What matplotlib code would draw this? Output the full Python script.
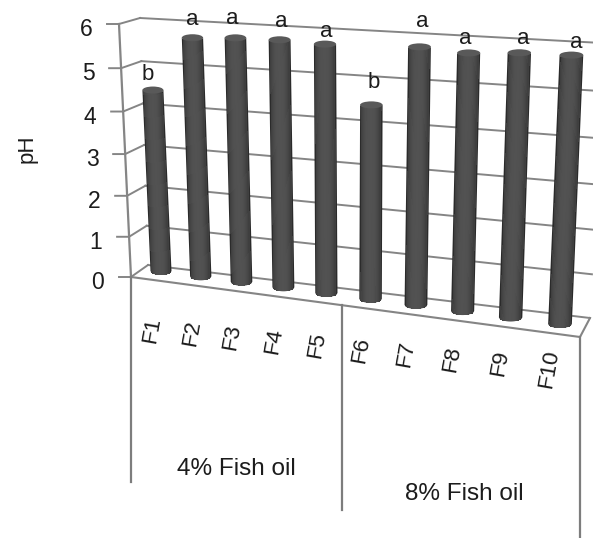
import numpy as np
import matplotlib
matplotlib.use("Agg")
import matplotlib.pyplot as plt
from matplotlib.patches import Ellipse

categories = ["F1", "F2", "F3", "F4", "F5", "F6", "F7", "F8", "F9", "F10"]
ph_values = [4.48, 5.73, 5.77, 5.77, 5.72, 4.46, 5.75, 5.67, 5.72, 5.72]
letters = ["b", "a", "a", "a", "a", "b", "a", "a", "a", "a"]
groups = ["4% Fish oil", "8% Fish oil"]
y_ticks = [0, 1, 2, 3, 4, 5, 6]

GRID = "#858585"
TEXT = "#1c1c1c"

plt.rcParams['font.family'] = ['Liberation Sans', 'DejaVu Sans']


def warp(f, r):
    return f / (f + (1 - f) * r)


def plane_point(corners, s, v):
    # corners: base left, base right, top left, top right (image pixels)
    t = warp(v / 6, 1.058)
    bl, br, tl, tr = [np.array(c, dtype=float) for c in corners]
    base = bl + (br - bl) * s
    top = tl + (tr - tl) * s
    return base + (top - base) * t


bar_plane = [(161, 274), (560, 327), (150, 24), (572, 41)]
back_wall = [(148, 265), (590, 318), (140, 18), (602, 43)]
side_wall = [(131, 277), (148, 265), (119, 24), (140, 18)]


def bar_point(u, v):
    return plane_point(bar_plane, warp((u - 0.5) / 9, 1.13), v)


fig = plt.figure(figsize=(5.93, 5.38), dpi=100)
ax = fig.add_axes([0, 0, 1, 1])
ax.set_xlim(0, 593)
ax.set_ylim(538, 0)
ax.axis("off")

# walls and ticks
for t in y_ticks:
    p0 = plane_point(back_wall, 0, t)
    p1 = plane_point(back_wall, 1, t)
    ax.plot([p0[0], p1[0]], [p0[1], p1[1]], color=GRID, lw=1.4, zorder=1)
    ps = plane_point(side_wall, 0, t)
    ax.plot([ps[0] - 12, ps[0], p0[0]], [ps[1], ps[1], p0[1]], color=GRID, lw=1.4, zorder=1)
    ax.text(ps[0] - 33, ps[1] + 5.5, str(t), fontsize=16.5, color=TEXT, ha="center", va="center")

pa = plane_point(side_wall, 0, 6)
ax.plot([pa[0], 131], [pa[1], 277], color=GRID, lw=1.6, zorder=1)

# floor
ax.plot([131, 580, 590], [277, 337, 318], color=GRID, lw=1.5, zorder=1)

# group separators
for sx, sy, ey in [(131, 277, 482), (342, 305, 510), (580, 337, 538)]:
    ax.plot([sx, sx], [sy, ey], color="#7d7d7d", lw=1.6, zorder=1)

# cylinders: dark silhouette, then shaded strips inside it
arc = np.linspace(-1, 1, 25)
for i, val in enumerate(ph_values):
    base = bar_point(i + 0.5, 0)
    top = bar_point(i + 0.5, val)
    hw = 10.5 + i * 0.15
    curve = np.sqrt(1 - arc ** 2)
    outline_x = np.concatenate([base[0] + arc * hw, top[0] + arc[::-1] * hw])
    outline_y = np.concatenate([base[1] - 3 + curve * 4, top[1] + curve[::-1] * 3])
    ax.fill(outline_x, outline_y, color="#2b2b2b", lw=0, zorder=3)
    inner = np.linspace(-0.86, 0.86, 19)
    for t0, t1 in zip(inner[:-1], inner[1:]):
        tm = (t0 + t1) / 2
        shade = 0.2 + 0.12 * (1 - abs(tm) ** 2.5)
        d0 = np.sqrt(1 - t0 ** 2)
        d1 = np.sqrt(1 - t1 ** 2)
        ax.fill([base[0] + t0 * hw, base[0] + t1 * hw, top[0] + t1 * hw, top[0] + t0 * hw],
                [base[1] - 3 + d0 * 3.5, base[1] - 3 + d1 * 3.5, top[1] + d1 * 3, top[1] + d0 * 3],
                color=str(shade), lw=0, antialiased=False, zorder=3.5)
    ax.add_patch(Ellipse((top[0], top[1]), 2 * hw, 7, facecolor="#595959", edgecolor="none", zorder=4))

# significance letters, nudged by hand like in the source chart
letter_dx = [-5, 0, -3, 2, 1, 2, 3, -3, 4, 5]
letter_dy = [-16, -18, -19, -18, -13, -22, -25, -14, -14, -13]
for i, val in enumerate(ph_values):
    p = bar_point(i + 0.5, val)
    ax.text(p[0] + letter_dx[i], p[1] + letter_dy[i], letters[i], fontsize=16, color=TEXT,
            ha="center", va="center", zorder=5)

# category labels sit below the floor edge
for i, name in enumerate(categories):
    p = bar_point(i + 0.5, 0)
    ax.text(p[0] - 9 - i * 0.2, p[1] + 56 - i * 1.6, name, fontsize=16, color=TEXT, rotation=80,
            ha="center", va="center", rotation_mode="anchor")

ax.text(236, 469, groups[0], fontsize=17.5, color=TEXT, ha="center", va="center")
ax.text(464, 494, groups[1], fontsize=17.5, color=TEXT, ha="center", va="center")
ax.text(27, 149, "pH", fontsize=16, color=TEXT, rotation=90, ha="center", va="center")

fig.savefig("out.png", dpi=100)
